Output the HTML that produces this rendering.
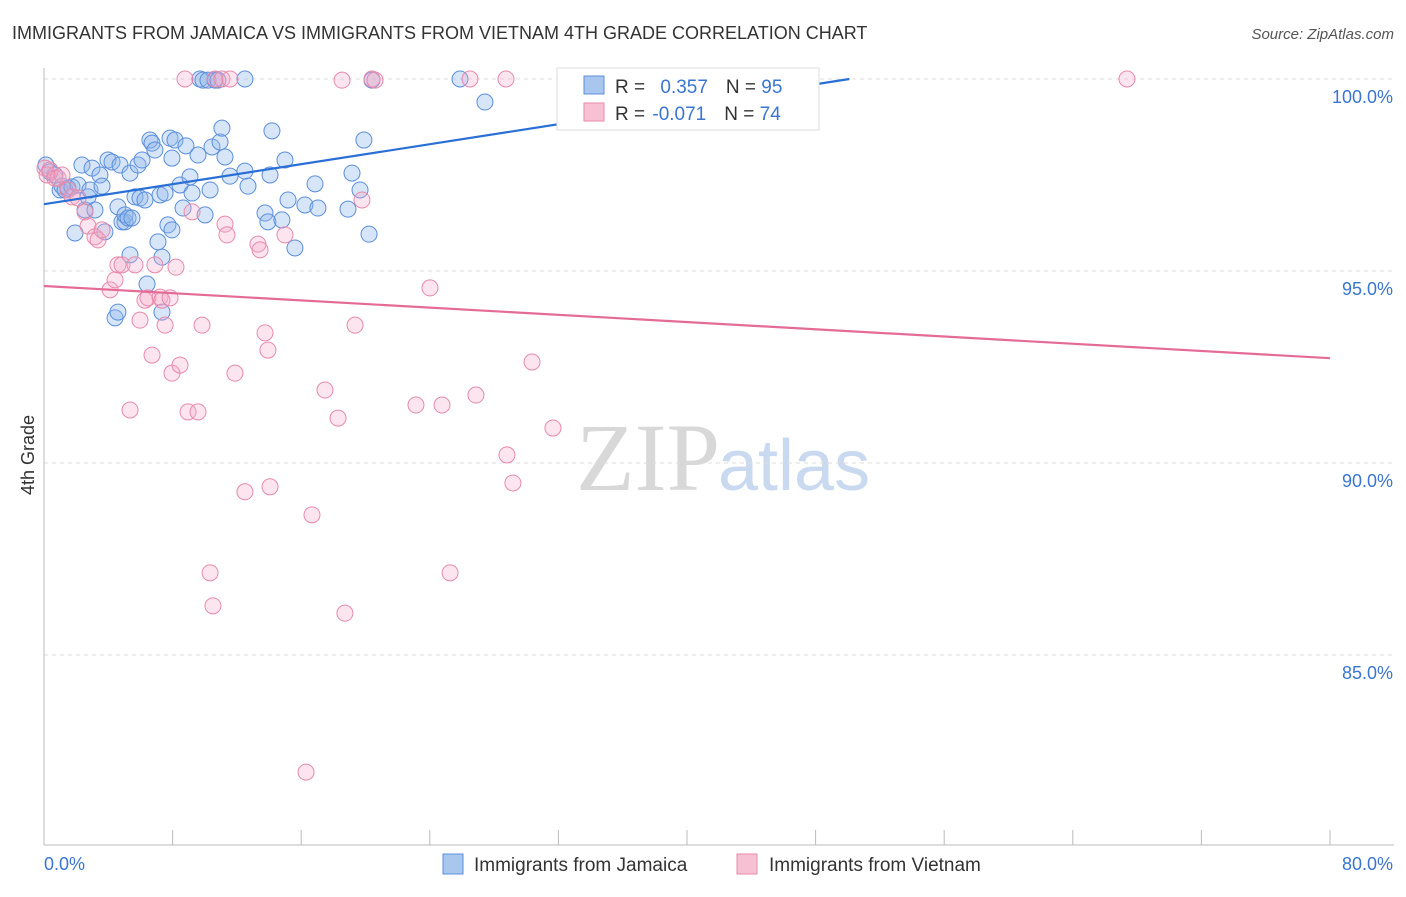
<!DOCTYPE html>
<html><head><meta charset="utf-8"><style>
body{margin:0;background:#fff;font-family:"Liberation Sans",sans-serif}
</style></head><body>
<svg id="chart" width="1406" height="892" xmlns="http://www.w3.org/2000/svg">
<text x="12" y="39" font-size="18" fill="#333">IMMIGRANTS FROM JAMAICA VS IMMIGRANTS FROM VIETNAM 4TH GRADE CORRELATION CHART</text>
<text x="1394" y="39" font-size="15" fill="#555" font-style="italic" text-anchor="end">Source: ZipAtlas.com</text>
<text x="720" y="490" font-size="96" fill="#d8d8d8" text-anchor="end" font-family="Liberation Serif,serif">ZIP</text>
<text x="718" y="490" font-size="72" fill="#c9d9ef">atlas</text>
<g id="grid"></g><g id="axes"></g><g id="pts"></g><g id="lines"></g>
<text transform="translate(34,455) rotate(-90)" font-size="18" fill="#333" text-anchor="middle">4th Grade</text>
<g>
<rect x="557" y="68" width="262" height="62" fill="#fff" stroke="#ddd"/>
<rect x="584" y="76" width="20" height="18" fill="#a8c6ee" stroke="#5b8fdc"/>
<rect x="584" y="103" width="20" height="18" fill="#f7c1d3" stroke="#e88aab"/>
<text x="615" y="93" font-size="19" fill="#333">R = <tspan fill="#3a75d1" dx="10">0.357</tspan><tspan dx="18" fill="#333">N = </tspan><tspan fill="#3a75d1">95</tspan></text>
<text x="615" y="120" font-size="19" fill="#333">R = <tspan fill="#3a75d1" dx="2">-0.071</tspan><tspan dx="18" fill="#333">N = </tspan><tspan fill="#3a75d1">74</tspan></text>
</g>
<g>
<rect x="443" y="854" width="20" height="20" fill="#a8c6ee" stroke="#5b8fdc"/>
<text x="474" y="871" font-size="19" fill="#333">Immigrants from Jamaica</text>
<rect x="737" y="854" width="20" height="20" fill="#f7c1d3" stroke="#e88aab"/>
<text x="769" y="871" font-size="19" fill="#333">Immigrants from Vietnam</text>
</g>
</svg>
<script>
const yTicks=[100,95,90,85];
const yTickLabels=["100.0%","95.0%","90.0%","85.0%"];
const xTickLabels=["0.0%","80.0%"];
const jamX=[0.12,0.37,0.68,1.0,1.12,1.31,1.49,1.74,1.93,2.12,2.36,2.55,2.74,2.86,2.99,3.17,3.48,3.61,3.79,3.98,4.23,4.42,4.6,4.6,4.73,4.85,5.04,5.04,5.23,5.35,5.35,5.47,5.66,5.85,5.97,6.1,6.28,6.41,6.59,6.72,6.9,7.09,7.22,7.34,7.34,7.53,7.71,7.84,7.96,7.96,8.15,8.46,8.65,8.83,9.08,9.21,9.58,9.7,9.89,10.02,10.2,10.33,10.45,10.64,10.82,10.95,11.07,11.26,11.57,12.5,12.5,12.69,13.75,13.93,14.06,14.18,14.8,14.99,15.18,15.61,16.23,16.86,17.04,18.91,19.16,19.66,19.9,20.22,20.4,25.88,27.43,42.67,42.98];
const jamY=[97.76,97.58,97.5,97.11,97.21,97.11,97.16,97.19,95.99,97.24,97.76,96.59,96.93,97.11,97.68,96.59,97.5,97.21,96.02,97.89,97.84,93.78,93.93,96.67,97.76,96.28,96.28,96.46,96.38,95.42,97.55,96.38,96.93,97.76,96.9,97.89,96.85,94.66,98.41,98.33,98.15,95.76,96.98,93.93,95.36,97.03,96.2,98.46,96.07,97.94,98.41,97.24,96.64,98.26,97.45,97.03,98.02,100,99.97,96.46,99.97,97.11,98.23,99.97,99.97,98.36,98.72,97.97,97.47,100,97.6,97.21,96.51,96.28,97.5,98.65,96.33,97.89,96.85,95.6,96.72,97.27,96.64,96.61,97.55,97.11,98.41,95.96,99.97,100,99.4,100,99.97];
const vieX=[0.06,0.19,0.37,0.68,0.87,1.12,1.49,1.74,2.12,2.55,2.74,3.17,3.36,3.61,4.11,4.42,4.6,4.85,5.35,5.66,5.97,6.28,6.47,6.72,6.9,7.22,7.34,7.53,7.84,7.96,8.21,8.46,8.77,8.96,9.21,9.58,9.83,10.33,10.51,10.64,11.07,11.26,11.38,11.57,11.88,12.5,13.31,13.44,13.75,13.93,14.06,14.99,16.67,17.48,18.29,18.54,18.72,19.35,19.78,20.4,20.59,23.14,24.01,24.76,25.26,26.5,26.87,28.74,28.8,29.17,30.36,31.66,16.3,67.37];
const vieY=[97.68,97.5,97.63,97.42,97.42,97.5,97.11,96.93,96.9,96.54,96.17,95.89,95.81,96.07,94.51,94.77,95.16,95.16,91.38,95.16,93.72,94.24,94.3,92.81,95.16,94.32,94.24,93.59,94.3,92.34,95.1,92.55,100,91.33,96.54,91.33,93.59,87.14,86.28,100,100,96.22,95.94,100,92.34,89.25,95.7,95.55,93.39,92.94,89.38,95.94,88.65,91.9,91.17,99.97,86.09,93.59,96.85,100,99.97,91.51,94.56,91.51,87.14,100,91.77,100,90.21,89.48,92.63,90.91,81.95,100];
const jamTrend=[96.74,100,50.1]; // y at x=0, y at x=end, end x
const vieTrend=[94.61,92.73,80];
const X0=44,X1=1330,Y100=79,PXPER=38.4;
const sx=v=>X0+(v/80)*(X1-X0);
const sy=v=>Y100+(100-v)*PXPER;
const NS="http://www.w3.org/2000/svg";
function mk(tag,attrs,parent){const e=document.createElementNS(NS,tag);for(const k in attrs)e.setAttribute(k,attrs[k]);parent.appendChild(e);return e;}
const grid=document.getElementById('grid'),axes=document.getElementById('axes'),pts=document.getElementById('pts'),lines=document.getElementById('lines');
yTicks.forEach((t,i)=>{
 const l=mk('line',{x1:X0,x2:1394,y1:sy(t),y2:sy(t),stroke:'#ddd','stroke-dasharray':'4,4'},grid);
 
 
 const tx=mk('text',{x:1393,y:sy(t)+24,'font-size':18,fill:'#3a75d1','text-anchor':'end'},grid);
 tx.textContent=yTickLabels[i];
 
 
});
const ax=mk('line',{x1:X0,x2:X0,y1:68,y2:845,stroke:'#bbb'},axes);


const xa=mk('line',{x1:X0,x2:1394,y1:845,y2:845,stroke:'#bbb'},axes);


for(let i=0;i<=10;i++){
 const t=mk('line',{x1:sx(i*8),x2:sx(i*8),y1:830,y2:845,stroke:'#bbb'},axes);
 
 
}
const xl0=mk('text',{x:44,y:870,'font-size':18,fill:'#3a75d1'},axes);
xl0.textContent=xTickLabels[0];


const xl1=mk('text',{x:1393,y:870,'font-size':18,fill:'#3a75d1','text-anchor':'end'},axes);
xl1.textContent=xTickLabels[1];


jamX.forEach((x,i)=>{
 const c=mk('circle',{cx:sx(x),cy:sy(jamY[i]),r:8,fill:'rgba(140,180,235,0.35)',stroke:'#5b8fdc','stroke-width':1},pts);
 
 
});
vieX.forEach((x,i)=>{
 const c=mk('circle',{cx:sx(x),cy:sy(vieY[i]),r:8,fill:'rgba(245,170,200,0.3)',stroke:'#e88aab','stroke-width':1},pts);
 
 
});
const bl=mk('line',{x1:sx(0),y1:sy(jamTrend[0]),x2:sx(jamTrend[2]),y2:sy(jamTrend[1]),stroke:'#2a6fd6','stroke-width':2.2},lines);


const pl=mk('line',{x1:sx(0),y1:sy(vieTrend[0]),x2:sx(vieTrend[2]),y2:sy(vieTrend[1]),stroke:'#e56b97','stroke-width':2.2},lines);


</script>
</body></html>
